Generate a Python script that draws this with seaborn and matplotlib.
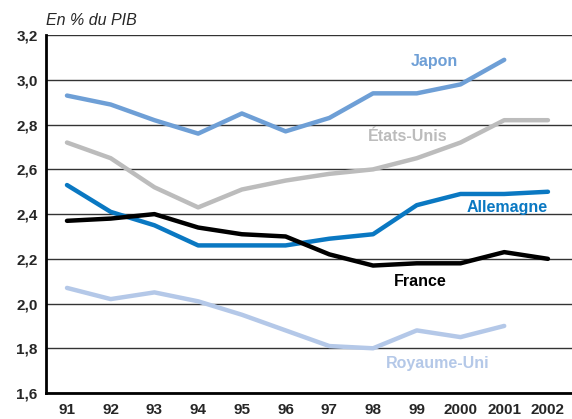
import numpy as np
import pandas as pd
import matplotlib
matplotlib.use("Agg")
import matplotlib.pyplot as plt
import seaborn as sns

# Données (en % du PIB)
years = ["91", "92", "93", "94", "95", "96", "97", "98", "99", "2000", "2001", "2002"]
japon = [2.93, 2.89, 2.82, 2.76, 2.85, 2.77, 2.83, 2.94, 2.94, 2.98, 3.09, np.nan]
etats_unis = [2.72, 2.65, 2.52, 2.43, 2.51, 2.55, 2.58, 2.60, 2.65, 2.72, 2.82, 2.82]
allemagne = [2.53, 2.41, 2.35, 2.26, 2.26, 2.26, 2.29, 2.31, 2.44, 2.49, 2.49, 2.50]
france = [2.37, 2.38, 2.40, 2.34, 2.31, 2.30, 2.22, 2.17, 2.18, 2.18, 2.23, 2.20]
royaume_uni = [2.07, 2.02, 2.05, 2.01, 1.95, 1.88, 1.81, 1.80, 1.88, 1.85, 1.90, np.nan]
y_ticks = [1.6, 1.8, 2.0, 2.2, 2.4, 2.6, 2.8, 3.0, 3.2]

series = {
    "Japon": japon,
    "États-Unis": etats_unis,
    "Allemagne": allemagne,
    "France": france,
    "Royaume-Uni": royaume_uni,
}
colors = {
    "Japon": "#6e9fd6",
    "États-Unis": "#bcbcbc",
    "Allemagne": "#0a78c2",
    "France": "#000000",
    "Royaume-Uni": "#b4c8e8",
}
# position des étiquettes (indice d'année, valeur)
label_pos = {
    "Japon": (8.4, 3.082),
    "États-Unis": (7.8, 2.745),
    "Allemagne": (10.07, 2.43),
    "France": (8.08, 2.097),
    "Royaume-Uni": (8.47, 1.73),
}

rows = []
for name, vals in series.items():
    for i, v in enumerate(vals):
        rows.append({"idx": i, "pays": name, "valeur": v})
df = pd.DataFrame(rows).dropna()

sns.set_style("white")
plt.rcParams["font.family"] = ["Liberation Sans", "DejaVu Sans"]

fig = plt.figure(figsize=(5.72, 4.19), dpi=100)
ax = fig.add_axes([0.0804, 0.062, 0.9196, 0.854])

for y in y_ticks:
    ax.axhline(y, color="#333333", lw=1.0, zorder=0)

sns.lineplot(data=df, x="idx", y="valeur", hue="pays", palette=colors,
             linewidth=3.2, legend=False, ax=ax, zorder=3)
for line in ax.get_lines():
    line.set_solid_capstyle("round")

for name, (x, y) in label_pos.items():
    ax.text(x, y, name, color=colors[name], fontsize=11.5, fontweight="bold",
            ha="center", va="center")

ax.set_xlim(-0.48, 11.55)
ax.set_ylim(1.6, 3.2)
ax.set_xticks(range(len(years)))
ax.set_xticklabels(years)
ax.set_yticks(y_ticks)
ax.set_yticklabels([f"{t:.1f}".replace(".", ",") for t in y_ticks])
ax.tick_params(axis="x", direction="in", length=6, width=2, pad=7,
               labelsize=11, color="black")
ax.tick_params(axis="y", length=0, pad=6, labelsize=11)
for lab in ax.get_xticklabels() + ax.get_yticklabels():
    lab.set_fontweight("bold")

for side in ["top", "right"]:
    ax.spines[side].set_visible(False)
for side in ["left", "bottom"]:
    ax.spines[side].set_linewidth(2)
    ax.spines[side].set_color("black")
ax.set_xlabel("")
ax.set_ylabel("")

fig.text(0.0804, 0.95, "En % du PIB", fontsize=11.5, style="italic", va="center")

fig.savefig("out.png", dpi=100)
